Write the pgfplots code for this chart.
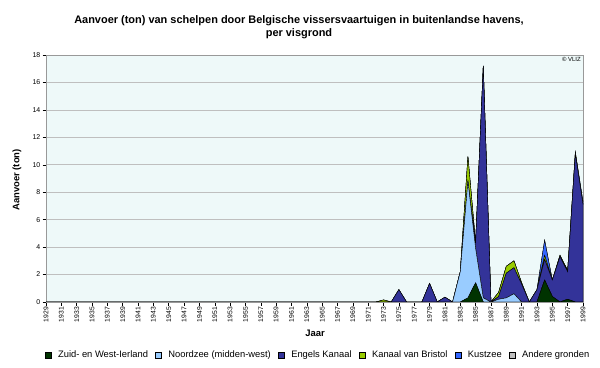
\documentclass[border=0pt]{standalone}
\usepackage{fontspec}
\setmainfont{Liberation Sans}
\setsansfont{Liberation Sans}
\usepackage{pgfplots}
\usepackage{pgfplotstable}
\pgfplotsset{compat=1.18}
\definecolor{cZW}{HTML}{003300}
\definecolor{cLB}{HTML}{99CCFF}
\definecolor{cEK}{HTML}{333399}
\definecolor{cKB}{HTML}{99CC00}
\definecolor{cKZ}{HTML}{3366FF}
\definecolor{cAG}{HTML}{C0C0C0}
\definecolor{bgc}{HTML}{EEF9F9}
\pgfplotstableread{
year ZW LB EK KB KZ AG
1929 0 0 0 0 0 0
1971 0 0 0 0 0 0
1972 0 0 0 0 0 0
1973 0 0 0 0.15 0 0
1974 0 0 0 0 0 0
1975 0 0 0.9 0 0 0
1976 0 0 0 0 0 0
1977 0 0 0 0 0 0
1978 0 0 0 0 0 0
1979 0 0 1.35 0 0 0
1980 0 0 0 0 0 0
1981 0 0 0.35 0 0 0
1982 0 0 0 0 0 0
1983 0 2.2 0 0 0 0
1984 0.3 8.5 0 1.8 0 0
1985 1.4 2.5 0.4 0 0 0
1986 0 0.3 16.9 0 0 0
1987 0 0 0 0 0 0
1988 0 0.2 0.2 0.3 0 0
1989 0 0.3 1.8 0.5 0 0
1990 0 0.6 1.9 0.5 0 0
1991 0 0 1.3 0.1 0 0
1992 0 0 0 0 0 0
1993 0 0 0.9 0 0 0
1994 1.6 0 1.5 0.3 1.1 0
1995 0.4 0 1.2 0 0 0
1996 0 0 3.3 0.1 0 0
1997 0.2 0 2.0 0.1 0 0
1998 0 0 10.8 0.1 0 0
1999 0 0 7.1 0 0.2 0
}\data
\begin{document}
\begin{tikzpicture}
\useasboundingbox (0,0) rectangle (600bp,368bp);
\begin{axis}[
  at={(46bp,66bp)}, anchor=south west,
  scale only axis, width=537bp, height=247bp,
  xmin=1929, xmax=1999, ymin=0, ymax=18,
  stack plots=y,
  axis background/.style={fill=bgc},
  axis line style={draw=gray!80},
  ymajorgrids, grid style={draw=gray!50, line width=0.6pt},
  ytick={0,2,...,18},
  xtick={1929,1931,...,1999},
  minor x tick num=1,
  tick align=outside, xtick pos=bottom, ytick pos=left,
  major tick length=3.5bp, minor tick length=3.5bp,
  tick style={black, line width=0.5pt},
  xticklabel style={rotate=90, anchor=east, font=\fontsize{6.8}{7}\selectfont, inner sep=1.5bp},
  yticklabel style={font=\fontsize{7}{8}\selectfont, inner sep=2bp},
  /pgf/number format/1000 sep={},
  /pgf/number format/assume math mode=true,
  legend columns=6,
  legend style={at={(272bp,-53bp)}, anchor=center, draw=none, fill=none,
    font=\fontsize{9.4}{10}\selectfont, column sep=5bp, inner sep=0pt},
  legend image code/.code={\draw[#1, draw=black, line width=0.4pt] (0bp,-3bp) rectangle (6bp,3bp);},
  every axis plot/.append style={draw=black, line width=0.4pt},
]
\addplot[fill=cZW] table[x=year,y=ZW]{\data} \closedcycle;
\addlegendentry{Zuid- en West-Ierland}
\addplot[fill=cLB] table[x=year,y=LB]{\data} \closedcycle;
\addlegendentry{Noordzee (midden-west)}
\addplot[fill=cEK] table[x=year,y=EK]{\data} \closedcycle;
\addlegendentry{Engels Kanaal}
\addplot[fill=cKB] table[x=year,y=KB]{\data} \closedcycle;
\addlegendentry{Kanaal van Bristol}
\addplot[fill=cKZ] table[x=year,y=KZ]{\data} \closedcycle;
\addlegendentry{Kustzee}
\addplot[fill=cAG] table[x=year,y=AG]{\data} \closedcycle;
\addlegendentry{Andere gronden}
\end{axis}
\node[font=\bfseries\fontsize{11}{13.5}\selectfont, align=center] at (299bp,341bp)
  {Aanvoer (ton) van schelpen door Belgische vissersvaartuigen in buitenlandse havens,\\per visgrond};
\node[font=\bfseries\fontsize{9.5}{10}\selectfont, rotate=90] at (17bp,188bp) {Aanvoer (ton)};
\node[font=\bfseries\fontsize{9.5}{10}\selectfont] at (315bp,35bp) {Jaar};
\node[font=\fontsize{6}{7}\selectfont, anchor=north east, inner sep=1bp] at (582bp,312bp) {© VLIZ};
\end{tikzpicture}
\end{document}
